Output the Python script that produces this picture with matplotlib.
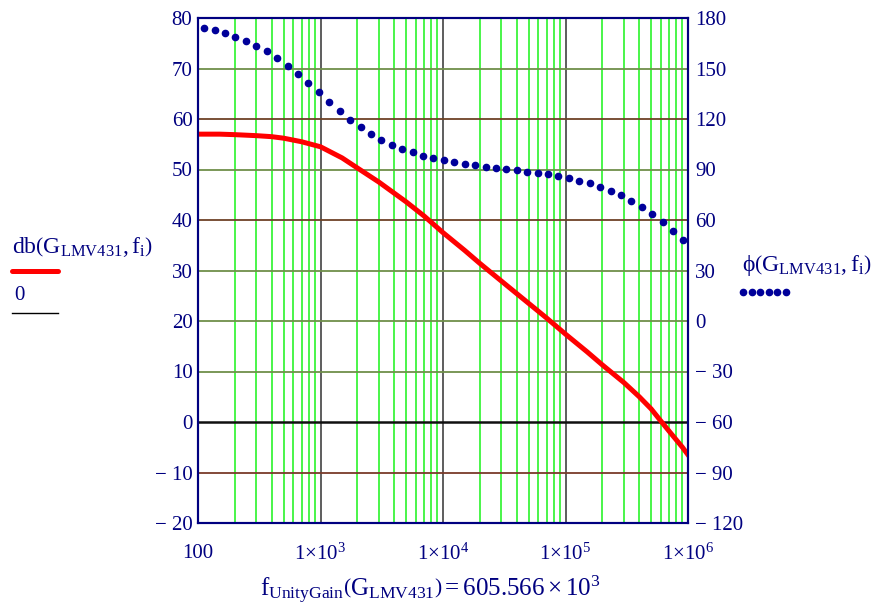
import matplotlib
matplotlib.use("Agg")
import matplotlib.pyplot as plt
from matplotlib.lines import Line2D
from matplotlib.ticker import FixedLocator, NullFormatter

plt.rcParams['font.family'] = ['Liberation Serif', 'DejaVu Serif']
plt.rcParams['mathtext.fontset'] = 'custom'
plt.rcParams['mathtext.rm'] = 'Liberation Serif'
plt.rcParams['mathtext.it'] = 'Liberation Serif:italic'
plt.rcParams['mathtext.bf'] = 'Liberation Serif:bold'

NAVY = '#000080'

# gain curve db(G, f)
gain_f = [100, 150, 200, 300, 400, 500, 700, 1e3, 1.5e3, 2e3, 3e3, 5e3, 7e3, 1e4,
          1.5e4, 2e4, 3e4, 5e4, 7e4, 1e5, 1.5e5, 2e5, 3e5, 4e5, 5e5, 6e5, 7e5,
          8e5, 9e5, 1e6]
gain_db = [57.0, 57.0, 56.9, 56.7, 56.5, 56.2, 55.5, 54.5, 52.3, 50.3, 47.5, 43.6, 40.8, 37.5,
           34.0, 31.4, 27.9, 23.5, 20.6, 17.4, 13.9, 11.3, 7.8, 5.0, 2.6, 0.2, -1.8,
           -3.5, -5.0, -6.5]

# phase samples phi(G, f_i)
phase_f = [112, 137, 166, 202, 246, 300, 364, 443, 539, 655, 797, 970,
           1179, 1434, 1744, 2122, 2581, 3139, 3818, 4644, 5649, 6871, 8357, 10165,
           12364, 15038, 18291, 22248, 27060, 32914, 40034, 48694, 59228, 72040, 87624,
           106578, 129633, 157675, 191783, 233270, 283731, 345107, 419759, 510562,
           621006, 755341, 918731]
phase_deg = [173.9, 172.7, 170.9, 168.9, 166.5, 163.5, 160.2, 156.2, 151.6, 146.7, 141.4, 135.9,
             130.3, 124.8, 119.6, 115.1, 111.3, 107.7, 104.6, 102.2, 100.2, 98.2, 96.7, 95.5,
             94.3, 93.3, 92.5, 91.5, 90.9, 90.1, 89.5, 88.7, 87.9, 87.2, 86.0,
             84.8, 83.4, 81.8, 79.8, 77.4, 74.9, 71.5, 67.7, 63.6, 58.6, 53.5, 47.9]

left_ticks = [-20, -10, 0, 10, 20, 30, 40, 50, 60, 70, 80]
right_ticks = [-120, -90, -60, -30, 0, 30, 60, 90, 120, 150, 180]
x_ticks = [1e2, 1e3, 1e4, 1e5, 1e6]
x_labels = ['100', r'$\mathrm{1{\times}10^{3}}$', r'$\mathrm{1{\times}10^{4}}$',
            r'$\mathrm{1{\times}10^{5}}$', r'$\mathrm{1{\times}10^{6}}$']


def fmt(v):
    return ('\u2212 %d' % -v) if v < 0 else '%d' % v


fig = plt.figure(figsize=(8.85, 6.13), dpi=100)
ax = fig.add_axes([198 / 885, 90 / 613, 490 / 885, 505 / 613])
ax.set_xscale('log')
ax.set_xlim(1e2, 1e6)
ax.set_ylim(-20, 80)

# vertical grid
minor = [m * 10 ** e for e in range(2, 6) for m in range(2, 10)]
for xv in minor:
    ax.axvline(xv, color='#3cf53c', lw=1.3, zorder=0)
for xv in x_ticks[1:-1]:
    ax.axvline(xv, color='#505050', lw=1.3, zorder=0)

# horizontal grid
hcolors = {60: '#6e4226', 40: '#6e4226', -10: '#7a3a2a'}
for yv in left_ticks[1:-1]:
    if yv == 0:
        ax.axhline(yv, color='#101010', lw=1.8, zorder=1)
    else:
        ax.axhline(yv, color=hcolors.get(yv, '#6f8f4a'), lw=1.3, zorder=1)

ax.plot(gain_f, gain_db, color='#ff0000', lw=3.6, zorder=3)

ax.xaxis.set_major_locator(FixedLocator(x_ticks))
ax.xaxis.set_minor_formatter(NullFormatter())
ax.set_xticks(x_ticks)
ax.set_xticklabels(x_labels)
ax.tick_params(axis='x', which='both', length=0, pad=15, labelsize=15, labelcolor=NAVY)
ax.set_yticks(left_ticks)
ax.set_yticklabels([fmt(v) for v in left_ticks])
ax.tick_params(axis='y', length=0, pad=4, labelsize=15, labelcolor=NAVY)
for s in ax.spines.values():
    s.set_color(NAVY)
    s.set_linewidth(1.5)

ax2 = ax.twinx()
ax2.set_ylim(-120, 180)
ax2.plot(phase_f, phase_deg, linestyle='none', marker='o', markersize=4.5,
         color='#00009a', zorder=4)
ax2.set_yticks(right_ticks)
ax2.set_yticklabels([fmt(v) for v in right_ticks])
ax2.tick_params(axis='y', length=0, pad=5, labelsize=15, labelcolor=NAVY)
for s in ax2.spines.values():
    s.set_color(NAVY)
    s.set_linewidth(1.5)

# left legend
fig.text(12 / 885, 1 - 247 / 613, r'$\mathrm{db\left(G_{LMV431},f_{i}\right)}$',
         fontsize=17, color=NAVY, ha='left', va='center')
fig.add_artist(Line2D([12 / 885, 58 / 885], [1 - 271 / 613, 1 - 271 / 613],
                      color='#ff0000', lw=3.6, solid_capstyle='round'))
fig.text(14 / 885, 1 - 295 / 613, '0', fontsize=15, color=NAVY, ha='left', va='center')
fig.add_artist(Line2D([12 / 885, 58 / 885], [1 - 313 / 613, 1 - 313 / 613],
                      color='black', lw=1.0))

# right legend
fig.text(742 / 885, 1 - 266 / 613, r'$\mathrm{\phi\left(G_{LMV431},f_{i}\right)}$',
         fontsize=17, color=NAVY, ha='left', va='center')
dots_x = [743, 752, 760, 769, 777, 786]
fig.add_artist(Line2D([d / 885 for d in dots_x], [1 - 292 / 613] * len(dots_x),
                      linestyle='none', marker='o', markersize=4.5, color='#00009a'))

# x label
fig.text(430 / 885, 1 - 590 / 613,
         r'$\mathrm{f_{UnityGain}\left(G_{LMV431}\right) = 605.566\times10^{3}}$',
         fontsize=18, color=NAVY, ha='center', va='center')

fig.savefig('out.png', dpi=100)
